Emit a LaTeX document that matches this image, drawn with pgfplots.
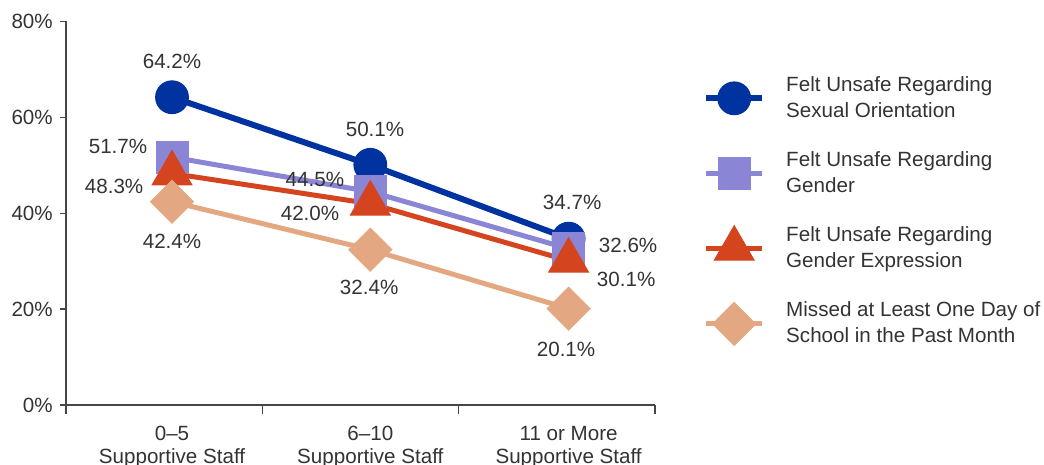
\documentclass[border=0pt]{standalone}
\usepackage{fontspec}
\setmainfont{Liberation Sans}
\usepackage{pgfplots}
\pgfplotsset{compat=1.18}
\definecolor{cBlue}{RGB}{0,51,160}
\definecolor{cLav}{RGB}{139,133,214}
\definecolor{cRed}{RGB}{212,69,31}
\definecolor{cPeach}{RGB}{227,168,130}
\definecolor{txt}{RGB}{51,51,51}
\definecolor{axl}{RGB}{70,70,70}

\begin{document}
\fontsize{10.3}{11.5}\selectfont
\begin{tikzpicture}
\begin{axis}[
  scale only axis,
  width=294.5pt, height=191.75pt,
  xmin=0, xmax=3, ymin=0, ymax=80,
  axis lines=left,
  axis line style={-, draw=axl, line width=0.7pt},
  tick align=outside,
  tick style={draw=axl, line width=0.7pt},
  xtick={0.54,1.55,2.56},
  xticklabels={{0--5\\Supportive Staff},{6--10\\Supportive Staff},{11 or More\\Supportive Staff}},
  xticklabel style={align=center, text=txt, yshift=-4pt},
  major x tick style={draw=none},
  minor xtick={0,1,2,3},
  minor tick length=4.5pt,
  ytick={0,20,40,60,80},
  major tick length=3pt,
  yticklabel={\pgfmathprintnumber{\tick}\%},
  yticklabel style={text=txt},
  /pgf/number format/assume math mode=true,
  legend style={draw=none, fill=none, at={(1.071,0.879)}, anchor=north west,
    cells={anchor=west, align=left}, row sep=11.6pt, column sep=8.5pt,
    text=txt, font=\fontsize{10.3}{13}\selectfont},
  legend image code/.code={\draw[mark repeat=2,mark phase=2] plot coordinates {(0pt,0pt) (14pt,0pt) (28pt,0pt)};},
  clip=false,
]
\addplot[color=cBlue, line width=3pt, mark=*, mark size=8.2pt, mark options={solid, line width=0.5pt}]
  coordinates {(0.54,64.2) (1.55,50.1) (2.56,34.7)};
\addlegendentry{Felt Unsafe Regarding\\Sexual Orientation}
\addplot[color=cLav, line width=2.5pt, mark=square*, mark size=8pt, mark options={solid, line width=0.5pt}]
  coordinates {(0.54,51.7) (1.55,44.5) (2.56,32.6)};
\addlegendentry{Felt Unsafe Regarding\\Gender}
\addplot[color=cRed, line width=2.5pt, mark=triangle*, mark size=11.5pt, mark options={solid, line width=0.5pt}]
  coordinates {(0.54,48.3) (1.55,42.0) (2.56,30.1)};
\addlegendentry{Felt Unsafe Regarding\\Gender Expression}
\addplot[color=cPeach, line width=2.5pt, mark=square*, mark size=7.6pt, mark options={solid, rotate=45, line width=0.5pt}]
  coordinates {(0.54,42.4) (1.55,32.4) (2.56,20.1)};
\addlegendentry{Missed at Least One Day of\\School in the Past Month}

% data labels
\begin{scope}[every node/.style={text=txt}]
\node at (axis cs:0.54,71.6) {64.2\%};
\node at (axis cs:1.574,57.4) {50.1\%};
\node at (axis cs:2.578,42.2) {34.7\%};
\node at (axis cs:0.265,53.9) {51.7\%};
\node at (axis cs:1.268,47.0) {44.5\%};
\node at (axis cs:2.863,33.2) {32.6\%};
\node at (axis cs:0.245,45.7) {48.3\%};
\node at (axis cs:1.243,39.9) {42.0\%};
\node at (axis cs:2.853,26.3) {30.1\%};
\node at (axis cs:0.54,34.2) {42.4\%};
\node at (axis cs:1.544,24.6) {32.4\%};
\node at (axis cs:2.547,11.7) {20.1\%};
\end{scope}
\end{axis}
\pgfresetboundingbox
\path[use as bounding box] (-33pt,-30pt) rectangle (489pt,202.5pt);
\end{tikzpicture}
\end{document}
